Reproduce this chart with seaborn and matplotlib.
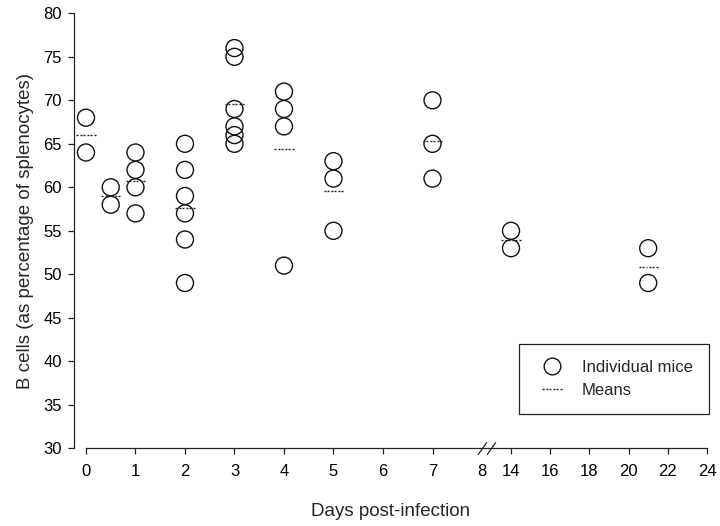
import numpy as np
import pandas as pd
import matplotlib
matplotlib.use("Agg")
import matplotlib.pyplot as plt
from matplotlib.path import Path
from matplotlib.lines import Line2D
import seaborn as sns

# ---- data ----
mouse_day = [0, 0, 0.5, 0.5, 1, 1, 1, 1,
             2, 2, 2, 2, 2, 2,
             3, 3, 3, 3, 3, 3,
             4, 4, 4, 4,
             5, 5, 5,
             7, 7, 7,
             14, 14,
             21, 21]
mouse_pct = [68, 64, 60, 58, 64, 62, 60, 57,
             65, 62, 59, 57, 54, 49,
             76, 75, 69, 67, 66, 65,
             71, 69, 67, 51,
             63, 61, 55,
             70, 65, 61,
             55, 53,
             53, 49]
mean_day = [0, 0.5, 1, 2, 3, 4, 5, 7, 14, 21]
mean_pct = [66.0, 59.0, 60.7, 57.6, 69.6, 64.4, 59.6, 65.3, 53.9, 50.8]
xtick_vals = [0, 1, 2, 3, 4, 5, 6, 7, 8, 14, 16, 18, 20, 22, 24]
ytick_vals = [30, 35, 40, 45, 50, 55, 60, 65, 70, 75, 80]
break_marks = [8.05, 9.9]

mice = pd.DataFrame({"day": mouse_day, "pct": mouse_pct})
means = pd.DataFrame({"day": mean_day, "pct": mean_pct})

# ---- broken x axis scale ----
T14 = 8.586
K = 0.3959
G = (T14 - 8.0) / 6.0

def fwd(x):
    x = np.asarray(x, dtype=float)
    return np.where(x <= 8, x, np.where(x >= 14, T14 + (x - 14) * K, 8 + (x - 8) * G))

def inv(t):
    t = np.asarray(t, dtype=float)
    return np.where(t <= 8, t, np.where(t >= T14, 14 + (t - T14) / K, 8 + (t - 8) / G))

sns.set_theme(style="ticks")
plt.rcParams["font.family"] = ["Liberation Sans", "DejaVu Sans"]

fig = plt.figure(figsize=(7.2, 5.26), dpi=100)
ax = fig.add_axes([74 / 720, 1 - 448.3 / 526, (707 - 74) / 720, (448.3 - 13.3) / 526])
ax.set_xscale("function", functions=(fwd, inv))

# dashed mean marker
verts, codes = [], []
x0 = -0.5
for i in range(6):
    verts += [(x0, 0), (x0 + 0.1, 0)]
    codes += [Path.MOVETO, Path.LINETO]
    x0 += 0.18
dash_marker = Path(verts, codes)

sns.scatterplot(data=mice, x="day", y="pct", ax=ax, marker="o", s=150,
                facecolor="none", edgecolor="#111111", linewidth=1.0,
                legend=False, zorder=3)
sns.scatterplot(data=means, x="day", y="pct", ax=ax, marker=dash_marker, s=190,
                facecolor="none", edgecolor="#222222", linewidth=1.0,
                legend=False, zorder=4)

ax.set_xlim(-0.242, 24)
ax.set_ylim(30, 80)
ax.set_xticks(xtick_vals)
ax.set_xticklabels([str(v) for v in xtick_vals])
ax.set_yticks(ytick_vals)
ax.xaxis.set_minor_locator(matplotlib.ticker.NullLocator())
ax.yaxis.set_minor_locator(matplotlib.ticker.NullLocator())

for s in ["top", "right"]:
    ax.spines[s].set_visible(False)
ax.spines["bottom"].set_bounds(0, 24)
ax.spines["left"].set_bounds(30, 80)
for s in ["bottom", "left"]:
    ax.spines[s].set_color("#222222")
    ax.spines[s].set_linewidth(0.9)

ax.tick_params(axis="both", direction="out", length=4.3, width=0.9, color="#222222",
               labelsize=12, labelcolor="black")
ax.tick_params(axis="x", pad=7)
ax.tick_params(axis="y", pad=4.5)
ax.xaxis.get_major_ticks()[8].tick1line.set_visible(False)

# break marks
slash = Path([(-0.35, -0.5), (0.35, 0.5)], [Path.MOVETO, Path.LINETO])
ax.plot(break_marks, [30, 30], linestyle="none", marker=slash, markersize=9,
        markeredgecolor="#222222", markeredgewidth=0.9, clip_on=False, zorder=5)

ax.set_xlabel("Days post-infection", fontsize=13.5, labelpad=17)
ax.set_ylabel("B cells (as percentage of splenocytes)", fontsize=13.5, labelpad=7)

handles = [
    Line2D([], [], linestyle="none", marker="o", markersize=12,
           markerfacecolor="none", markeredgecolor="#111111", markeredgewidth=1.0),
    Line2D([], [], linestyle="none", marker=dash_marker, markersize=14,
           markerfacecolor="none", markeredgecolor="#222222", markeredgewidth=1.0),
]
leg = fig.legend(handles, ["Individual mice", "Means"], loc="upper right",
                 bbox_to_anchor=(708.7 / 720, 1 - 344 / 526),
                 bbox_transform=fig.transFigure, borderaxespad=0,
                 fontsize=12, frameon=True, fancybox=False, framealpha=1,
                 edgecolor="#222222", borderpad=0.95, labelspacing=0.47,
                 handletextpad=0.8, handlelength=2.0)
leg.get_frame().set_linewidth(0.9)

fig.savefig("out.png", dpi=100, facecolor="white")
